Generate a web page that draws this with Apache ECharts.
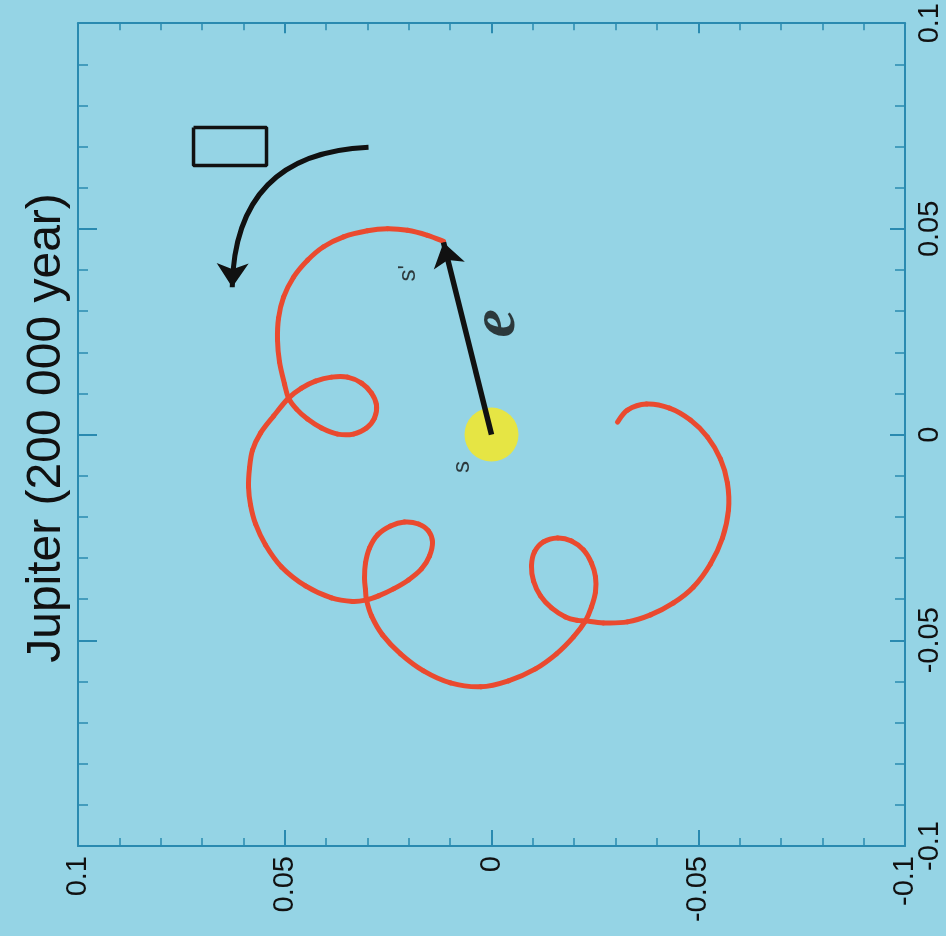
<!DOCTYPE html>
<html>
<head>
<meta charset="utf-8">
<script src="https://cdn.jsdelivr.net/npm/echarts@6/dist/echarts.min.js"></script>
<style>
  html, body { margin: 0; padding: 0; background: #95D4E5; }
  #chart { width: 946px; height: 936px; }
</style>
</head>
<body>
<div id="chart"></div>
<script>
// Orbit of the Sun's centre about the barycentre (figure is drawn turned a quarter turn).
// Horizontal axis values (bottom axis, increasing to the left).
const orbitH = [
  0.01161, 0.01548, 0.02031, 0.02515, 0.02998, 0.03579, 0.04062, 0.04449, 0.04788, 0.05029,
  0.05150, 0.05175, 0.05126, 0.05005, 0.04909, 0.04715, 0.04449, 0.04111, 0.03724, 0.03337,
  0.03023, 0.02829, 0.02781, 0.02902, 0.03143, 0.03482, 0.03869, 0.04256, 0.04594, 0.04909,
  0.05271, 0.05586, 0.05779, 0.05852, 0.05876, 0.05827, 0.05706, 0.05465, 0.05078, 0.04497,
  0.03869, 0.03361, 0.03023, 0.02732, 0.02370, 0.02007, 0.01693, 0.01499, 0.01427, 0.01523,
  0.01765, 0.02104, 0.02442, 0.02757, 0.02950, 0.03047, 0.03071, 0.03047, 0.03023, 0.02902,
  0.02636, 0.02200, 0.01644, 0.00991, 0.00266, -0.00411, -0.01064, -0.01572, -0.01983, -0.02273,
  -0.02418, -0.02515, -0.02515, -0.02418, -0.02225, -0.01934, -0.01596, -0.01257, -0.01040, -0.00967,
  -0.01016, -0.01185, -0.01451, -0.01789, -0.02079, -0.02273, -0.02708, -0.03288, -0.03845, -0.04401,
  -0.04884, -0.05295, -0.05586, -0.05731, -0.05706, -0.05537, -0.05223, -0.04812, -0.04304, -0.03748,
  -0.03288, -0.03047
];
// Vertical axis values (right axis).
const orbitV = [
  0.04698, 0.04844, 0.04965, 0.05002, 0.04953, 0.04807, 0.04565, 0.04237, 0.03824, 0.03339,
  0.02829, 0.02294, 0.01760, 0.01226, 0.00886, 0.00619, 0.00376, 0.00158, 0.00012, 0.00012,
  0.00158, 0.00401, 0.00716, 0.01008, 0.01250, 0.01396, 0.01396, 0.01299, 0.01129, 0.00886,
  0.00449, 0.00036, -0.00376, -0.00813, -0.01275, -0.01712, -0.02173, -0.02683, -0.03217, -0.03678,
  -0.03970, -0.04055, -0.04018, -0.03921, -0.03751, -0.03533, -0.03266, -0.02950, -0.02610, -0.02343,
  -0.02173, -0.02125, -0.02222, -0.02440, -0.02756, -0.03120, -0.03484, -0.03776, -0.04018, -0.04407,
  -0.04868, -0.05329, -0.05742, -0.06034, -0.06131, -0.05985, -0.05694, -0.05329, -0.04917, -0.04528,
  -0.04188, -0.03824, -0.03460, -0.03120, -0.02804, -0.02586, -0.02513, -0.02610, -0.02853, -0.03193,
  -0.03557, -0.03921, -0.04213, -0.04431, -0.04516, -0.04528, -0.04577, -0.04553, -0.04383, -0.04091,
  -0.03703, -0.03144, -0.02513, -0.01833, -0.01178, -0.00595, -0.00061, 0.00352, 0.00643, 0.00741,
  0.00595, 0.00304
];

// Axis range and tick labels
const axisMin = -0.1;
const axisMax = 0.1;
const majorStep = 0.05;
const tickLabels = { '-0.1': '-0.1', '-0.05': '-0.05', '0': '0', '0.05': '0.05', '0.1': '0.1' };

// Sun at the barycentre, displacement vector e and the sense-of-motion arrow
const sunPos = [0, 0];
const ePath = [[0, 0], [0.01161, 0.04670]];
const motionPath = [[0.02974, 0.06981], [0.06270, 0.03581]];
const boxCorners = [[0.07206, 0.07466], [0.05441, 0.07466], [0.05441, 0.06543], [0.07206, 0.06543], [0.07206, 0.07466]];
const textMarks = [
  { name: 'e', value: [-0.00145, 0.02707] },
  { name: 's', value: [0.00701, -0.00789] },
  { name: "s'", value: [0.02007, 0.03921] }
];
const titleText = 'Jupiter (200 000 year)';

const AXIS_COLOR = '#2A8AB0';
const ORBIT_COLOR = '#EA4A2F';
const LABEL_FONT = "'Liberation Sans Narrow', 'Arial Narrow', 'Liberation Sans', sans-serif";

function labelFmt(v) {
  const k = String(Math.round(v * 100) / 100);
  return tickLabels[k] !== undefined ? tickLabels[k] : '';
}

function makeAxis(pos, showLabels, majorLen, minorLen, inverse) {
  return {
    type: 'value',
    position: pos,
    min: axisMin,
    max: axisMax,
    interval: majorStep,
    inverse: inverse,
    axisLine: { show: true, onZero: false, lineStyle: { color: AXIS_COLOR, width: 2 } },
    axisTick: { show: true, inside: true, length: majorLen, lineStyle: { color: AXIS_COLOR, width: 2 } },
    minorTick: { show: true, splitNumber: 5, length: minorLen, lineStyle: { color: AXIS_COLOR, width: 1.5 } },
    splitLine: { show: false },
    minorSplitLine: { show: false },
    axisLabel: {
      show: showLabels,
      rotate: 90,
      margin: 10,
      color: '#111',
      fontSize: 29,
      fontFamily: LABEL_FONT,
      formatter: labelFmt
    }
  };
}

const chart = echarts.init(document.getElementById('chart'), null, { renderer: 'canvas' });

const orbitData = orbitH.map((h, i) => [h, orbitV[i]]);

// Each data point draws the curve piece to the next point as a Catmull-Rom
// style cubic, so the closed loops stay round between the sampled points.
function renderOrbitPiece(params, api) {
  const i = params.dataIndex;
  const n = orbitData.length;
  if (i >= n - 1) return null;
  const p = (k) => api.coord(orbitData[Math.max(0, Math.min(n - 1, k))]);
  const p0 = p(i - 1), p1 = p(i), p2 = p(i + 1), p3 = p(i + 2);
  return {
    type: 'bezierCurve',
    shape: {
      x1: p1[0], y1: p1[1],
      x2: p2[0], y2: p2[1],
      cpx1: p1[0] + (p2[0] - p0[0]) / 6, cpy1: p1[1] + (p2[1] - p0[1]) / 6,
      cpx2: p2[0] - (p3[0] - p1[0]) / 6, cpy2: p2[1] - (p3[1] - p1[1]) / 6
    },
    style: { stroke: ORBIT_COLOR, lineWidth: 5, fill: null, lineCap: 'round' }
  };
}

const labelData = textMarks.map(m => m.name === 'e'
  ? { name: m.name, value: m.value, label: { fontSize: 64, fontStyle: 'italic', fontWeight: 'bold', fontFamily: "'Liberation Serif', 'DejaVu Serif', serif" } }
  : m);

chart.setOption({
  backgroundColor: '#95D4E5',
  animation: false,
  grid: { left: 78, top: 23, width: 827, height: 823, containLabel: false },
  xAxis: [
    makeAxis('bottom', true, 16, 8, true),
    makeAxis('top', false, 10, 7, true)
  ],
  yAxis: [
    makeAxis('right', true, 15, 10, false),
    makeAxis('left', false, 19, 10, false)
  ],
  graphic: [{
    type: 'text',
    x: 47,
    y: 428,
    rotation: Math.PI / 2,
    style: {
      text: titleText,
      fill: '#111',
      font: "48px 'Liberation Sans', Arial, sans-serif",
      align: 'center',
      verticalAlign: 'middle',
      textAlign: 'center',
      textVerticalAlign: 'middle'
    }
  }],
  series: [
    {
      name: 'Sun',
      type: 'scatter',
      xAxisIndex: 0, yAxisIndex: 0,
      data: [sunPos],
      symbolSize: 54,
      itemStyle: { color: '#FAE81C' },
      z: 2
    },
    {
      name: 'orbit',
      type: 'custom',
      xAxisIndex: 0, yAxisIndex: 0,
      data: orbitData,
      encode: { x: 0, y: 1 },
      renderItem: renderOrbitPiece,
      clip: false,
      z: 3
    },
    {
      name: 'e',
      type: 'lines',
      coordinateSystem: 'cartesian2d',
      xAxisIndex: 0, yAxisIndex: 0,
      symbol: ['none', 'arrow'],
      symbolSize: [26, 24],
      lineStyle: { color: '#111', width: 5.5, opacity: 1 },
      data: [{ coords: ePath }],
      z: 4
    },
    {
      name: 'motion',
      type: 'lines',
      coordinateSystem: 'cartesian2d',
      xAxisIndex: 0, yAxisIndex: 0,
      symbol: ['none', 'arrow'],
      symbolSize: [26, 24],
      lineStyle: { color: '#111', width: 5, opacity: 1, curveness: -0.47 },
      data: [{ coords: motionPath }],
      z: 4
    },
    {
      name: 'box',
      type: 'line',
      xAxisIndex: 0, yAxisIndex: 0,
      data: boxCorners,
      symbol: 'none',
      lineStyle: { color: '#111', width: 3.5 },
      z: 4
    },
    {
      name: 'labels',
      type: 'scatter',
      xAxisIndex: 0, yAxisIndex: 0,
      symbolSize: 0,
      data: labelData,
      label: {
        show: true,
        position: 'inside',
        rotate: 90,
        formatter: (p) => p.name,
        color: '#111',
        fontSize: 24,
        fontFamily: "'Liberation Sans', sans-serif"
      },
      z: 5
    }
  ]
});
</script>
</body>
</html>
